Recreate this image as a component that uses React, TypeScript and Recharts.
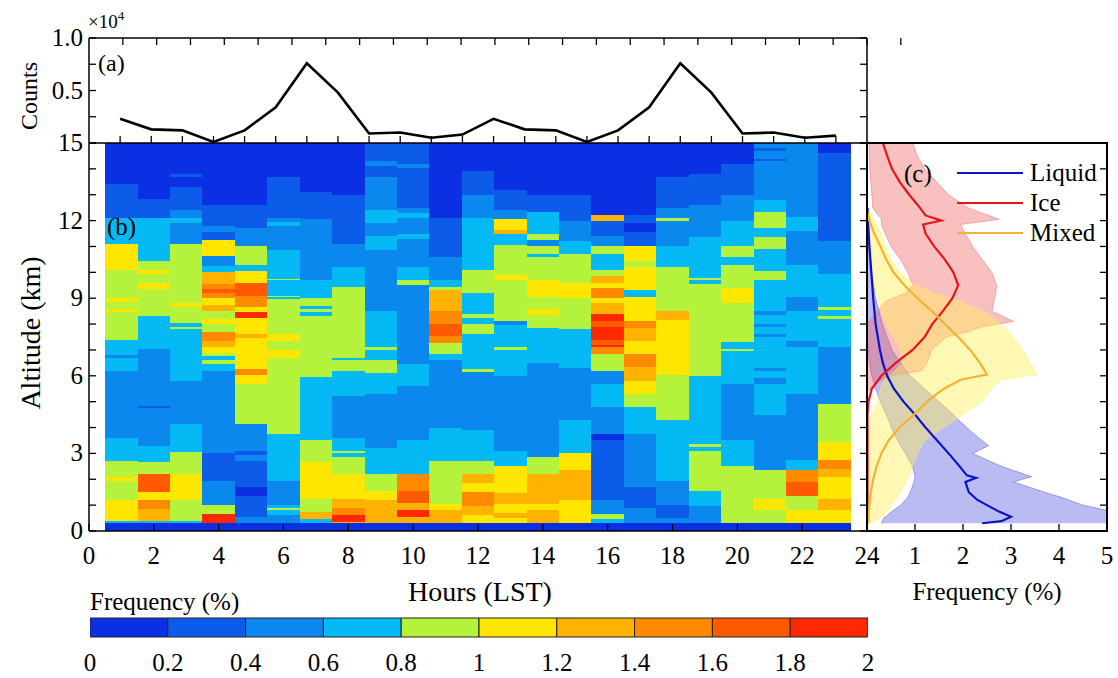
import React from "react";
import {
  ComposedChart,
  LineChart,
  BarChart,
  Line,
  Area,
  Bar,
  XAxis,
  YAxis,
  ReferenceArea,
  Legend,
} from "recharts";

const FONT = '"Liberation Serif", "Times New Roman", serif';
const W = 1118;
const H = 678;

// plot box edges on the page
const LEFT = 89;
const MID = 867;
const RIGHT = 1107;
const A_TOP = 38;
const B_TOP = 143;
const B_BOT = 531;
const CB_TOP = 618;
const CB_BOT = 637;

// (a) sample counts per hour
const countHours = [1, 2, 3, 4, 5, 6, 7, 8, 9, 10, 11, 12, 13, 14, 15, 16, 17, 18, 19, 20, 21, 22, 23, 24];
const counts = [
  2300, 1300, 1200, 100, 1200, 3400, 7600, 4800, 900, 1000, 500, 800,
  2300, 1300, 1200, 100, 1200, 3400, 7600, 4800, 900, 1000, 500, 700,
];
const countTicks = [0, 2500, 5000, 7500, 10000];

// colour bar bins (%)
const binEdges = [0, 0.2, 0.4, 0.6, 0.8, 1, 1.2, 1.4, 1.6, 1.8, 2];
const binColors = [
  "#0b2fe3", "#0d5ce9", "#0a88ee", "#05b9f5", "#b5f23c",
  "#ffe600", "#ffb300", "#ff8a00", "#ff5a00", "#ff2800",
];

// (b) each hour: [top of layer (km), colour bin], from top to bottom
const heatHours = [1, 2, 3, 4, 5, 6, 7, 8, 9, 10, 11, 12, 13, 14, 15, 16, 17, 18, 19, 20, 21, 22, 23];
const groundTop = 0.3;
const heatColumns: [number, number][][] = [
  [[15, 0], [13.4, 1], [12.1, 3], [11.1, 5], [10.1, 4], [9.0, 5], [8.85, 4], [8.6, 5], [8.45, 4], [7.4, 3], [6.8, 2], [6.7, 3], [6.2, 2], [3.6, 3], [2.7, 4], [2.1, 5], [1.95, 4], [1.2, 5], [0.4, 3]],
  [[15, 0], [12.85, 1], [12.1, 3], [10.45, 4], [10.1, 5], [9.95, 4], [9.6, 5], [9.35, 4], [8.3, 3], [7.05, 2], [4.85, 1], [4.75, 2], [3.3, 3], [2.65, 4], [2.2, 8], [1.5, 5], [1.2, 7], [0.85, 6], [0.4, 3]],
  [[15, 0], [13.8, 1], [13.7, 0], [13.3, 1], [12.4, 2], [12.1, 3], [11.9, 2], [11.1, 4], [8.8, 5], [8.65, 4], [8.05, 3], [7.9, 4], [7.8, 3], [5.8, 2], [4.15, 3], [3.05, 4], [2.2, 5], [1.2, 4], [0.4, 3]],
  [[15, 0], [12.6, 1], [11.8, 2], [11.55, 1], [11.25, 5], [10.65, 2], [10.25, 3], [10.0, 6], [9.55, 7], [9.35, 8], [9.2, 7], [9.0, 5], [8.75, 6], [8.5, 4], [8.2, 5], [8.0, 4], [7.7, 7], [7.35, 6], [7.1, 5], [6.9, 4], [6.75, 3], [6.6, 4], [6.45, 3], [6.2, 2], [3.0, 1], [1.95, 2], [1.0, 4], [0.65, 9]],
  [[15, 0], [12.6, 1], [11.7, 2], [11.0, 4], [10.3, 3], [10.05, 5], [9.6, 8], [9.1, 7], [8.65, 5], [8.45, 9], [8.25, 5], [7.6, 6], [7.45, 5], [6.25, 7], [6.05, 5], [5.7, 4], [4.15, 2], [3.1, 1], [2.95, 2], [2.7, 1], [1.7, 0], [1.35, 1], [0.55, 2]],
  [[15, 0], [13.7, 1], [12.1, 2], [11.95, 3], [11.8, 2], [10.85, 3], [9.75, 4], [9.7, 3], [9.1, 4], [9.05, 3], [8.95, 4], [7.6, 5], [7.35, 4], [7.0, 5], [6.7, 4], [3.75, 3], [1.95, 2], [1.0, 3], [0.9, 4], [0.8, 3], [0.6, 2]],
  [[15, 0], [13.1, 1], [12.05, 2], [9.7, 3], [9.0, 4], [8.7, 3], [8.6, 4], [8.45, 3], [8.3, 4], [5.95, 3], [3.5, 4], [2.65, 5], [1.25, 4], [0.75, 6], [0.45, 3]],
  [[15, 0], [13.0, 1], [11.1, 2], [10.2, 3], [9.45, 4], [6.7, 3], [6.6, 4], [6.2, 3], [5.2, 2], [3.6, 3], [3.1, 4], [3.0, 3], [2.85, 4], [2.2, 5], [1.25, 6], [0.9, 7], [0.6, 9], [0.35, 6]],
  [[15, 1], [14.3, 2], [14.1, 1], [13.7, 2], [12.4, 3], [11.9, 2], [11.4, 3], [10.85, 2], [8.5, 3], [7.1, 4], [7.0, 3], [6.6, 4], [6.1, 3], [5.3, 2], [3.2, 3], [2.2, 4], [1.55, 5], [1.2, 6]],
  [[15, 1], [14.2, 2], [14.05, 1], [12.5, 2], [12.3, 3], [12.1, 2], [11.5, 3], [11.3, 2], [10.2, 3], [9.7, 4], [9.5, 2], [6.45, 3], [5.6, 2], [3.5, 3], [2.2, 7], [1.55, 8], [1.1, 6], [0.8, 9], [0.55, 6]],
  [[15, 0], [12.1, 1], [10.6, 2], [9.7, 3], [9.45, 4], [9.3, 6], [8.5, 7], [8.0, 8], [7.55, 7], [7.25, 4], [6.85, 3], [6.6, 2], [4.0, 3], [2.7, 4], [1.05, 5], [0.8, 6]],
  [[15, 0], [13.9, 1], [13.0, 2], [12.1, 3], [10.1, 4], [9.2, 3], [8.4, 4], [8.25, 3], [8.0, 4], [7.6, 3], [6.25, 4], [6.15, 2], [3.9, 3], [2.7, 4], [2.2, 6], [1.85, 5], [1.5, 7], [0.95, 6], [0.6, 5]],
  [[15, 0], [13.2, 1], [12.4, 2], [12.05, 5], [11.65, 6], [11.5, 3], [11.05, 4], [9.9, 5], [9.7, 4], [8.1, 2], [7.95, 3], [7.1, 4], [7.0, 3], [6.0, 2], [3.1, 3], [2.5, 5], [1.45, 6], [1.05, 5], [0.7, 6], [0.5, 5]],
  [[15, 0], [13.0, 1], [12.35, 3], [11.5, 4], [11.25, 2], [11.0, 4], [10.7, 3], [10.6, 4], [9.7, 5], [9.05, 4], [8.6, 5], [8.35, 4], [7.85, 3], [6.5, 2], [2.85, 4], [2.2, 6], [1.05, 5], [0.8, 6]],
  [[15, 0], [13.0, 1], [12.0, 2], [11.2, 3], [10.7, 4], [9.6, 5], [9.0, 4], [7.8, 3], [6.3, 2], [4.3, 3], [3.0, 5], [2.35, 6], [1.2, 5]],
  [[15, 0], [12.2, 6], [12.0, 1], [11.4, 2], [11.0, 4], [10.7, 3], [10.1, 4], [9.85, 6], [9.6, 5], [9.4, 7], [9.0, 5], [8.8, 6], [8.4, 9], [8.1, 8], [7.9, 9], [7.4, 8], [7.2, 9], [7.1, 7], [6.85, 4], [6.2, 2], [5.7, 3], [4.8, 2], [3.75, 0], [3.5, 1], [1.2, 2], [0.65, 4], [0.45, 3]],
  [[15, 0], [12.2, 1], [11.9, 0], [11.55, 1], [11.0, 5], [10.45, 4], [10.2, 5], [9.3, 3], [9.05, 5], [8.1, 7], [7.85, 6], [7.35, 5], [6.85, 7], [6.35, 6], [5.8, 5], [5.3, 4], [4.8, 3], [3.75, 2], [1.7, 1], [0.9, 2]],
  [[15, 0], [13.7, 1], [12.5, 2], [12.1, 4], [12.0, 2], [11.0, 3], [10.2, 4], [8.5, 6], [8.15, 5], [6.05, 4], [4.3, 3], [1.95, 2], [1.0, 1], [0.5, 2]],
  [[15, 0], [13.8, 1], [12.6, 2], [11.35, 3], [9.8, 4], [9.7, 3], [9.55, 4], [6.0, 3], [3.35, 4], [3.25, 3], [3.1, 4], [1.55, 3], [0.95, 2]],
  [[15, 0], [14.2, 1], [13.0, 2], [12.0, 3], [11.0, 4], [10.6, 3], [10.3, 4], [9.4, 5], [8.8, 4], [7.3, 3], [7.05, 4], [6.95, 3], [5.7, 2], [3.5, 3], [2.5, 4]],
  [[15, 2], [14.8, 1], [14.7, 2], [14.4, 1], [14.3, 2], [12.8, 3], [12.35, 4], [11.7, 3], [11.35, 4], [10.9, 3], [10.05, 4], [9.7, 3], [8.5, 2], [8.35, 3], [8.0, 2], [7.9, 3], [7.6, 2], [7.5, 3], [6.3, 2], [6.2, 3], [5.9, 2], [5.7, 3], [4.5, 2], [2.35, 4], [1.25, 5], [0.8, 4]],
  [[15, 2], [12.15, 3], [11.6, 2], [10.3, 3], [9.05, 2], [8.5, 3], [7.35, 2], [7.1, 3], [5.3, 2], [2.75, 3], [2.35, 7], [1.9, 8], [1.35, 4], [0.8, 5]],
  [[15, 0], [14.6, 1], [11.2, 2], [9.95, 3], [8.65, 4], [8.55, 3], [8.3, 4], [8.2, 3], [7.1, 2], [4.9, 4], [3.45, 5], [2.75, 7], [2.4, 6], [2.1, 5], [1.25, 6], [0.8, 5]],
];

// (c) profiles: [altitude km, frequency %]
const liquidLine: [number, number][] = [
  [0.3, 2.4], [0.38, 2.8], [0.55, 3.0], [0.75, 2.75], [1.0, 2.5], [1.2, 2.3], [1.5, 2.12], [1.9, 2.05], [2.05, 2.27], [2.15, 2.08],
  [2.5, 1.93], [3, 1.7], [3.5, 1.46], [4, 1.22], [4.5, 1.0], [5, 0.76], [5.5, 0.56], [6, 0.42], [6.5, 0.33], [7, 0.27],
  [8, 0.18], [9, 0.13], [10, 0.09], [11, 0.05], [12, 0.02], [12.5, 0.01],
];
const iceLine: [number, number][] = [
  [0.3, 0.01], [3, 0.01], [4.5, 0.01], [5, 0.03], [5.5, 0.1], [6, 0.3], [6.5, 0.6], [7, 0.95], [7.5, 1.2], [8, 1.36],
  [8.5, 1.58], [9, 1.78], [9.5, 1.9], [10, 1.8], [10.5, 1.62], [11, 1.4], [11.5, 1.22], [11.85, 1.17], [12.0, 1.55],
  [12.2, 1.22], [12.5, 1.1], [13, 0.88], [13.5, 0.68], [14, 0.52], [14.5, 0.42], [15, 0.33],
];
const mixedLine: [number, number][] = [
  [0.3, 0.03], [0.5, 0.03], [1, 0.05], [1.5, 0.08], [2, 0.13], [2.5, 0.2], [3, 0.3], [3.5, 0.45], [4, 0.68], [4.5, 0.98],
  [5, 1.25], [5.5, 1.6], [5.85, 1.95], [6.05, 2.5], [6.5, 2.35], [7, 2.15], [7.5, 1.9], [8, 1.62], [8.5, 1.35], [9, 1.05],
  [9.5, 0.78], [10, 0.55], [10.5, 0.4], [11, 0.28], [11.5, 0.15], [12, 0.05], [12.3, 0.02],
];
// spread: [altitude km, low %, high %]
const liquidBand: [number, number, number][] = [
  [0.3, 0.3, 5], [0.5, 0.35, 5], [0.8, 0.55, 5], [1.0, 0.7, 4.5], [1.3, 0.85, 4.05], [1.5, 0.9, 3.7], [1.9, 0.98, 3.05],
  [2.1, 1.0, 3.43], [2.5, 0.95, 2.8], [3.0, 0.8, 2.2], [3.3, 0.7, 2.53], [3.8, 0.55, 2.2], [4.2, 0.47, 1.96], [4.5, 0.4, 1.8],
  [5, 0.28, 1.5], [5.5, 0.18, 1.2], [6, 0.1, 0.9], [6.5, 0.05, 0.7], [7, 0.02, 0.52], [8, 0, 0.32], [9, 0, 0.18],
  [10, 0, 0.1], [11, 0, 0.06], [12, 0, 0.03],
];
const iceBand: [number, number, number][] = [
  [5.4, 0, 0.03], [5.7, 0, 0.15], [6, 0, 0.5], [6.2, 0, 1.15], [6.5, 0, 1.25], [7, 0, 1.35], [7.5, 0, 1.65], [7.7, 0, 2.1],
  [7.9, 0, 2.4], [8.1, 0.05, 3.05], [8.5, 0.2, 2.6], [8.9, 0.4, 2.65], [9.2, 0.8, 2.68], [9.5, 0.95, 2.7], [10, 0.85, 2.6],
  [10.5, 0.7, 2.4], [11, 0.5, 2.2], [11.5, 0.38, 2.05], [11.85, 0.3, 1.95], [12.05, 0.3, 2.75], [12.5, 0.12, 2.1],
  [13, 0.1, 1.7], [13.5, 0.08, 1.45], [14, 0.06, 1.2], [14.5, 0.05, 1.05], [15, 0.05, 0.95],
];
const mixedBand: [number, number, number][] = [
  [0.3, 0, 0.1], [0.6, 0, 0.35], [1, 0, 0.5], [1.5, 0, 0.7], [2, 0, 0.85], [2.5, 0, 0.95], [3, 0, 1.05], [3.5, 0, 1.2],
  [4, 0.03, 1.6], [4.5, 0.1, 2.0], [5, 0.22, 2.4], [5.5, 0.28, 2.6], [5.85, 0.35, 2.8], [6.05, 0.5, 3.55], [6.5, 0.75, 3.4],
  [7, 0.7, 3.25], [7.5, 0.55, 3.05], [8, 0.4, 2.8], [8.5, 0.3, 2.4], [8.9, 0.25, 1.9], [9.2, 0.2, 1.4], [9.5, 0.15, 1.0],
  [10, 0.1, 0.68], [10.5, 0.06, 0.5], [11, 0.04, 0.38], [11.5, 0.02, 0.3], [12, 0, 0.15], [12.5, 0, 0.05],
];
const legendNames = ["Liquid", "Ice", "Mixed"];
const phaseColors = { liquid: "#0b14c4", ice: "#e3161b", mixed: "#f2b233" };
const bandColors = { liquid: "#4b4be0", ice: "#ef5a5a", mixed: "#ffef5c" };

const hourTicks = [0, 2, 4, 6, 8, 10, 12, 14, 16, 18, 20, 22, 24];
const altTicks = [0, 1, 2, 3, 4, 5, 6, 7, 8, 9, 10, 11, 12, 13, 14, 15];
const freqTicks = [0, 1, 2, 3, 4, 5];

const heatCells = heatHours.flatMap((h, i) => {
  const col = heatColumns[i];
  const cells = col.map(([top, lvl], j) => ({
    h,
    top,
    bottom: j + 1 < col.length ? col[j + 1][0] : groundTop,
    lvl,
  }));
  cells.push({ h, top: groundTop, bottom: 0, lvl: 0 });
  return cells;
});

// lines share one table (gaps are bridged); each band keeps its own rows
const lineRows = (() => {
  const alts = new Set<number>();
  [liquidLine, iceLine, mixedLine].forEach((s) => s.forEach((p) => alts.add(p[0])));
  return [...alts]
    .sort((a, b) => a - b)
    .map((alt) => {
      const row: Record<string, any> = { alt };
      const l = liquidLine.find((p) => p[0] === alt);
      const i = iceLine.find((p) => p[0] === alt);
      const m = mixedLine.find((p) => p[0] === alt);
      if (l) row.liquid = l[1];
      if (i) row.ice = i[1];
      if (m) row.mixed = m[1];
      return row;
    });
})();
const bandRows = (band: [number, number, number][]) =>
  band.map(([alt, lo, hi]) => ({ alt, range: [lo, hi] }));

const countRows = countHours.map((h, i) => ({ h, n: counts[i] }));
const colorbarRow = [
  binColors.reduce(
    (row, _c, i) => ({ ...row, [`b${i}`]: binEdges[i + 1] - binEdges[i] }),
    { name: "f" } as Record<string, any>
  ),
];

type Side = "bottom" | "top" | "left" | "right";

// inward tick marks with optional labels
function tick(side: Side, fmt?: (v: number) => string | null, len = 7) {
  return (p: any) => {
    const { x, y, payload } = p;
    const v = payload.value as number;
    const lbl = fmt ? fmt(v) : null;
    let x2 = x;
    let y2 = y;
    if (side === "bottom") y2 = y - len;
    if (side === "top") y2 = y + len;
    if (side === "left") x2 = x + len;
    if (side === "right") x2 = x - len;
    return (
      <g>
        {len > 0 && <line x1={x} y1={y} x2={x2} y2={y2} stroke="#000" strokeWidth={1.3} />}
        {lbl !== null && (
          <text
            x={side === "left" ? x - 6 : x}
            y={side === "left" ? y + 8 : y + 33}
            textAnchor={side === "left" ? "end" : "middle"}
            fontFamily={FONT}
            fontSize={25}
            fill="#000"
          >
            {lbl}
          </text>
        )}
      </g>
    );
  };
}

const axisLine = { stroke: "#000", strokeWidth: 1.5 };
const bare = { tickLine: false, tickSize: 0, tickMargin: 0, interval: 0 as const, axisLine, allowDataOverflow: true };

function Txt({
  x,
  y,
  size,
  rotate,
  start,
  children,
}: {
  x: number;
  y: number;
  size: number;
  rotate?: boolean;
  start?: boolean;
  children: React.ReactNode;
}) {
  return (
    <div
      style={{
        position: "absolute",
        left: x,
        top: y,
        transform: `translate(${start ? "0" : "-50%"}, -50%)${rotate ? " rotate(-90deg)" : ""}`,
        fontFamily: FONT,
        fontSize: size,
        lineHeight: 1,
        whiteSpace: "nowrap",
        color: "#000",
        zIndex: 20,
      }}
    >
      {children}
    </div>
  );
}

const layer: React.CSSProperties = { position: "absolute", left: 0, top: 0 };

// panel (c) lives in its own box on the page
const C_BOX = { left: MID - 10, top: B_TOP - 10, width: RIGHT - MID + 20, height: B_BOT - B_TOP + 60 };
const cLayer: React.CSSProperties = { position: "absolute", left: C_BOX.left, top: C_BOX.top };
const cMargin = { top: 10, left: 10, right: 10, bottom: 50 };

// one vertical-layout layer of panel (c), altitude on y
function ProfileLayer({ data, children }: { data: any[]; children: React.ReactNode }) {
  return (
    <div style={cLayer}>
      <ComposedChart width={C_BOX.width} height={C_BOX.height} layout="vertical" data={data} margin={cMargin}>
        <XAxis type="number" domain={[0, 5]} allowDataOverflow hide />
        <YAxis dataKey="alt" type="number" domain={[0, 15]} reversed allowDataOverflow hide />
        {children}
      </ComposedChart>
    </div>
  );
}

function Band({ band, color, opacity }: { band: [number, number, number][]; color: string; opacity: number }) {
  return (
    <ProfileLayer data={bandRows(band)}>
      <Area
        dataKey="range"
        type="linear"
        fill={color}
        fillOpacity={opacity}
        stroke={color}
        strokeOpacity={0.45}
        legendType="none"
        isAnimationActive={false}
      />
    </ProfileLayer>
  );
}

export default function App() {
  return (
    <div style={{ position: "absolute", left: 0, top: 0, width: W, height: H, background: "#fff" }}>
      {/* (b) hour-altitude frequency */}
      <div style={layer}>
        <ComposedChart
          width={W}
          height={H}
          data={heatHours.map((h) => ({ h }))}
          margin={{ top: B_TOP, left: LEFT - 1, right: W - MID - 1, bottom: H - B_BOT - 1 }}
        >
          <XAxis
            dataKey="h"
            type="number"
            domain={[0, 24]}
            ticks={hourTicks}
            height={1}
            {...bare}
            tick={tick("bottom", (v) => String(v))}
          />
          <YAxis type="number" domain={[0, 15]} ticks={altTicks} width={1} {...bare} tick={tick("left", (v) => (v % 3 === 0 ? String(v) : null))} />
          <YAxis yAxisId="r" orientation="right" type="number" domain={[0, 15]} ticks={altTicks} width={1} {...bare} tick={tick("right")} />
          {heatCells.map((c, k) => (
            <ReferenceArea
              key={k}
              x1={c.h - 0.5}
              x2={c.h + 0.5}
              y1={c.bottom}
              y2={c.top}
              fill={binColors[c.lvl]}
              fillOpacity={1}
              stroke="none"
              ifOverflow="visible"
              shapeRendering="crispEdges"
            />
          ))}
        </ComposedChart>
      </div>

      {/* (c) spread of each phase, then mean profiles */}
      <Band band={liquidBand} color={bandColors.liquid} opacity={0.38} />
      <Band band={iceBand} color={bandColors.ice} opacity={0.38} />
      <Band band={mixedBand} color={bandColors.mixed} opacity={0.45} />
      <ProfileLayer data={lineRows}>
        <Line dataKey="liquid" name="Liquid" stroke={phaseColors.liquid} strokeWidth={2.2} dot={false} connectNulls isAnimationActive={false} />
        <Line dataKey="ice" name="Ice" stroke={phaseColors.ice} strokeWidth={2.2} dot={false} connectNulls isAnimationActive={false} />
        <Line dataKey="mixed" name="Mixed" stroke={phaseColors.mixed} strokeWidth={2.2} dot={false} connectNulls isAnimationActive={false} />
        <Legend
          layout="vertical"
          align="center"
          verticalAlign="middle"
          wrapperStyle={{ left: 957 - C_BOX.left, top: 158 - C_BOX.top, width: 150 }}
          content={(props: any) => {
            const items = (props.payload ?? []).filter((p: any) => legendNames.includes(p.value));
            items.sort((a: any, b: any) => legendNames.indexOf(a.value) - legendNames.indexOf(b.value));
            return (
              <div style={{ fontFamily: FONT, fontSize: 25, lineHeight: "30px" }}>
                {items.map((p: any) => (
                  <div key={p.value} style={{ display: "flex", alignItems: "center", height: 30 }}>
                    <svg width={66} height={30}>
                      <line x1={0} x2={66} y1={15} y2={15} stroke={p.color} strokeWidth={2.2} />
                    </svg>
                    <span style={{ marginLeft: 7 }}>{p.value}</span>
                  </div>
                ))}
              </div>
            );
          }}
        />
      </ProfileLayer>

      {/* (a) counts */}
      <div style={layer}>
        <LineChart
          width={W}
          height={H}
          data={countRows}
          margin={{ top: A_TOP - 1, left: LEFT - 1, right: W - MID - 1, bottom: H - B_TOP - 1 }}
        >
          <XAxis dataKey="h" type="number" domain={[0, 25]} ticks={countHours} height={1} {...bare} tick={tick("bottom")} />
          <XAxis xAxisId="t" orientation="top" type="number" domain={[0, 25]} ticks={countHours} height={1} {...bare} tick={tick("top")} />
          <YAxis type="number" domain={[0, 10000]} ticks={countTicks} width={1} {...bare}
            tick={tick("left", (v) => (v === 5000 ? "0.5" : v === 10000 ? "1.0" : null))} />
          <YAxis yAxisId="r" orientation="right" type="number" domain={[0, 10000]} ticks={countTicks} width={1} {...bare} tick={tick("right")} />
          <Line dataKey="n" stroke="#000" strokeWidth={2.6} dot={false} isAnimationActive={false} />
        </LineChart>
      </div>

      {/* colour bar */}
      <div style={layer}>
        <BarChart
          width={W}
          height={H}
          layout="vertical"
          data={colorbarRow}
          barCategoryGap={0}
          margin={{ top: CB_TOP, left: LEFT + 1, right: W - MID - 1, bottom: H - CB_BOT - 1 }}
        >
          <XAxis type="number" domain={[0, 2]} ticks={binEdges} height={1} {...bare} axisLine={false}
            tick={(p: any) => (
              <text x={p.x} y={p.y + 34} textAnchor="middle" fontFamily={FONT} fontSize={25} fill="#000">
                {Number(Number(p.payload.value).toFixed(1)).toString()}
              </text>
            )} />
          <YAxis type="category" dataKey="name" hide />
          {binColors.map((c, i) => (
            <Bar key={i} dataKey={`b${i}`} stackId="cb" fill={c} stroke="#222" strokeWidth={1} isAnimationActive={false} />
          ))}
        </BarChart>
      </div>

      {/* (c) axes and tick labels, kept on top of every other layer */}
      <div style={{ ...cLayer, zIndex: 10 }}>
        <ComposedChart
          width={C_BOX.width}
          height={C_BOX.height}
          data={freqTicks.map((f) => ({ f }))}
          margin={{ top: cMargin.top, left: cMargin.left - 1, right: cMargin.right - 1, bottom: cMargin.bottom - 1 }}
        >
          <XAxis dataKey="f" type="number" domain={[0, 5]} ticks={freqTicks} height={1} {...bare} tick={tick("bottom", (v) => (v === 0 ? null : String(v)))} />
          <YAxis type="number" domain={[0, 15]} ticks={altTicks} width={1} {...bare} tick={tick("left", undefined, 0)} />
          <YAxis yAxisId="r" orientation="right" type="number" domain={[0, 15]} ticks={altTicks} width={1} {...bare} tick={tick("right")} />
        </ComposedChart>
      </div>
      {/* (c) box outline */}
      <div
        style={{
          position: "absolute",
          left: MID - 1,
          top: B_TOP - 1,
          width: RIGHT - MID + 2,
          height: B_BOT - B_TOP + 2,
          border: "2px solid #000",
          boxSizing: "border-box",
          pointerEvents: "none",
          zIndex: 11,
        }}
      />

      <Txt x={88} y={20} size={19} start>
        ×10<sup style={{ fontSize: 13 }}>4</sup>
      </Txt>
      <Txt x={29} y={96} size={24} rotate>Counts</Txt>
      <Txt x={98} y={63} size={24} start>(a)</Txt>
      <Txt x={107} y={226} size={25} start>(b)</Txt>
      <Txt x={904} y={173} size={25} start>(c)</Txt>
      <Txt x={31} y={333} size={28} rotate>Altitude (km)</Txt>
      <Txt x={480} y={592} size={28}>Hours (LST)</Txt>
      <Txt x={987} y={591} size={25}>Frequency (%)</Txt>
      <Txt x={90} y={601} size={25} start>Frequency (%)</Txt>
    </div>
  );
}
